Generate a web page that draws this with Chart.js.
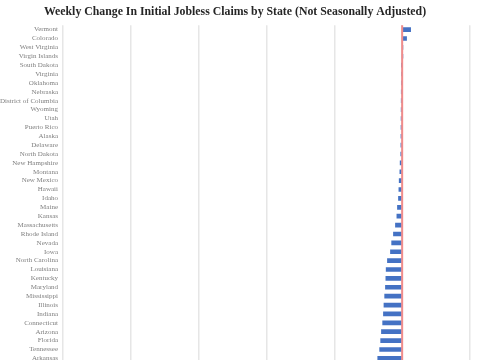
<!DOCTYPE html>
<html>
<head>
<meta charset="utf-8">
<script src="https://cdn.jsdelivr.net/npm/chart.js@4/dist/chart.umd.min.js"></script>
<style>
  html, body { margin: 0; padding: 0; background: #fff; overflow: hidden; }
  #wrap { width: 485px; height: 372px; position: relative; }
</style>
</head>
<body>
<div id="wrap"><canvas id="chart"></canvas></div>
<script>
// states, sorted by weekly change (largest rise first)
const states = [
  "Vermont", "Colorado", "West Virginia", "Virgin Islands", "South Dakota",
  "Virginia", "Oklahoma", "Nebraska", "District of Columbia", "Wyoming",
  "Utah", "Puerto Rico", "Alaska", "Delaware", "North Dakota",
  "New Hampshire", "Montana", "New Mexico", "Hawaii", "Idaho",
  "Maine", "Kansas", "Massachusetts", "Rhode Island", "Nevada",
  "Iowa", "North Carolina", "Louisiana", "Kentucky", "Maryland",
  "Mississippi", "Illinois", "Indiana", "Connecticut", "Arizona",
  "Florida", "Tennessee", "Arkansas"
];

// weekly change in initial claims (NSA)
const weeklyChange = [
  250, 130, 8, 2, -4,
  -22, -25, -27, -28, -30,
  -32, -34, -36, -38, -42,
  -60, -68, -88, -97, -109,
  -139, -156, -198, -257, -310,
  -345, -434, -472, -481, -493,
  -516, -537, -552, -575, -611,
  -634, -664, -720
];

const xMin = -10000;
const xMax = 2000;
const xStep = 2000;

const title = "Weekly Change In Initial Jobless Claims by State (Not Seasonally Adjusted)";

// red line at zero, drawn over the bars
const zeroLine = {
  id: "zeroLine",
  afterDatasetsDraw(chart) {
    const ctx = chart.ctx;
    const area = chart.chartArea;
    const x = chart.scales.x.getPixelForValue(0);
    ctx.save();
    ctx.beginPath();
    ctx.moveTo(x, area.top);
    ctx.lineTo(x, area.bottom);
    ctx.lineWidth = 2;
    ctx.strokeStyle = "#f08c8c";
    ctx.stroke();
    ctx.restore();
  },
};

const ctx = document.getElementById("chart").getContext("2d");
const chartInstance = new Chart(ctx, {
  type: "bar",
  data: {
    labels: states,
    datasets: [
      {
        label: "Weekly change",
        data: weeklyChange,
        backgroundColor: "#4472c4",
        barThickness: 4,
      },
    ],
  },
  options: {
    indexAxis: "y",
    responsive: true,
    maintainAspectRatio: false,
    animation: false,
    layout: { padding: { left: 0, right: 15, top: 0, bottom: 4 } },
    scales: {
      x: {
        min: xMin,
        max: xMax,
        ticks: { display: false, stepSize: xStep },
        grid: { color: "#e6e6e6", lineWidth: 1.5, drawTicks: false },
        border: { display: false },
      },
      y: {
        ticks: {
          autoSkip: false,
          padding: 5,
          color: "#808080",
          font: { family: "Liberation Serif", size: 7 },
        },
        grid: { display: false, drawTicks: false },
        border: { display: false },
        afterFit(scale) {
          scale.width = 63;
        },
      },
    },
    plugins: {
      legend: { display: false },
      tooltip: { enabled: false },
      title: {
        display: true,
        text: title,
        color: "#262626",
        font: { family: "Liberation Serif", size: 11.8, weight: "bold" },
        padding: { top: 5, bottom: 6 },
      },
    },
  },
  plugins: [zeroLine],
});
</script>
</body>
</html>
